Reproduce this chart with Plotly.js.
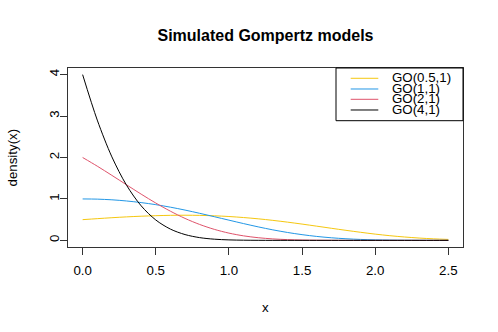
<!DOCTYPE html>
<html>
<head>
<meta charset="utf-8">
<script src="https://cdn.plot.ly/plotly-3.0.1.min.js"></script>
<style>html,body{margin:0;padding:0;background:#fff;}#chart{width:498px;height:332px;}</style>
</head>
<body>
<div id="chart"></div>
<script>
// x grid values
const xValues = [0,0.1,0.2,0.3,0.4,0.5,0.6,0.7,0.8,0.9,1.0,1.1,1.2,1.3,1.4,1.5,1.6,1.7,1.8,1.9,2.0,2.1,2.2,2.3,2.4,2.5];
// density values read for each model
const go051 = [0.5,0.524,0.547,0.567,0.583,0.596,0.604,0.607,0.603,0.593,0.576,0.551,0.520,0.483,0.440,0.393,0.343,0.292,0.242,0.195,0.151,0.113,0.0816,0.0561,0.0367,0.0227];
const go11  = [1,0.995,0.979,0.951,0.912,0.862,0.801,0.731,0.653,0.571,0.488,0.405,0.326,0.254,0.191,0.138,0.0951,0.0624,0.0388,0.0227,0.0124,0.0063,0.0030,0.0013,0.0005,0.0002];
const go21  = [2,1.791,1.569,1.341,1.116,0.901,0.704,0.530,0.384,0.266,0.175,0.109,0.0641,0.0352,0.0180,0.0085,0.0037,0.0014,0.0005,0.0002,0,0,0,0,0,0];
const go41  = [4,2.903,2.015,1.332,0.834,0.492,0.272,0.140,0.0662,0.0287,0.0113,0.0040,0.0012,0.0003,0.0001,0,0,0,0,0,0,0,0,0,0,0];
const seriesNames = ["GO(0.5,1)","GO(1,1)","GO(2,1)","GO(4,1)"];
const seriesColors = ["#F5C710","#2297E6","#DF536B","#000000"];
const xTicks = [0,0.5,1,1.5,2,2.5];
const xTickText = ["0.0","0.5","1.0","1.5","2.0","2.5"];
const yTicks = [0,1,2,3,4];

const seriesData = [go051, go11, go21, go41];
const traces = seriesData.map((ys, i) => ({
  x: xValues, y: ys, type: 'scatter', mode: 'lines', name: seriesNames[i],
  line: {color: seriesColors[i], width: 1, shape: 'spline', smoothing: 0.9},
  showlegend: false, hoverinfo: 'skip'
}));

const font = "Liberation Sans, Arial, sans-serif";
// manual legend (R style, tight spacing)
const legYs = [0.9425, 0.8827, 0.8251, 0.7654];
const shapes = [{
  type: 'rect', xref: 'paper', yref: 'paper', x0: 0.6785, x1: 1, y0: 0.7056, y1: 1,
  line: {color: '#000', width: 1}, fillcolor: 'rgba(0,0,0,0)'
}];
const annotations = [];
seriesNames.forEach((n, i) => {
  shapes.push({type: 'line', xref: 'paper', yref: 'paper', x0: 0.7157, x1: 0.7856,
    y0: legYs[i], y1: legYs[i], line: {color: seriesColors[i], width: 1}});
  annotations.push({xref: 'paper', yref: 'paper', x: 0.8144, y: legYs[i] + 0.005, text: n,
    showarrow: false, xanchor: 'left', yanchor: 'middle',
    font: {family: font, size: 13.3, color: '#000'}});
});
annotations.push({xref: 'paper', yref: 'paper', x: 0.5, y: 0, yshift: -60, text: 'x',
  showarrow: false, xanchor: 'center', yanchor: 'middle', font: {family: font, size: 13.3, color: '#000'}});
annotations.push({xref: 'paper', yref: 'paper', x: 0, xshift: -56, y: 0.5, text: 'density(x)', textangle: -90,
  showarrow: false, xanchor: 'center', yanchor: 'middle', font: {family: font, size: 13.3, color: '#000'}});

const layout = {
  width: 498, height: 332,
  margin: {l: 68, r: 35, t: 68, b: 85, pad: 0},
  paper_bgcolor: '#fff', plot_bgcolor: '#fff',
  font: {family: font, size: 13.3, color: '#000'},
  title: {text: '<b>Simulated Gompertz models</b>', font: {family: font, size: 16, color: '#000'},
    x: 0.5, xref: 'paper', xanchor: 'center', y: 1 - 35.7/332, yref: 'container', yanchor: 'middle'},
  xaxis: {range: [-0.1, 2.6], tickvals: xTicks, ticktext: xTickText, ticks: 'outside', ticklen: 7,
    tickcolor: '#333', tickwidth: 1, showgrid: false, zeroline: false, showline: true, mirror: true,
    ticklabelstandoff: 4,
    linecolor: '#333', linewidth: 1, tickfont: {family: font, size: 13.3, color: '#000'}, fixedrange: true},
  yaxis: {range: [-0.16, 4.16], tickvals: yTicks, ticks: 'outside', ticklen: 7, tickangle: -90,
    tickcolor: '#333', tickwidth: 1, showgrid: false, zeroline: false, showline: true, mirror: true,
    ticklabelstandoff: -4,
    linecolor: '#333', linewidth: 1, tickfont: {family: font, size: 13.3, color: '#000'}, fixedrange: true},
  shapes: shapes, annotations: annotations, showlegend: false
};
Plotly.newPlot('chart', traces, layout, {displayModeBar: false, staticPlot: true});
</script>
</body>
</html>
